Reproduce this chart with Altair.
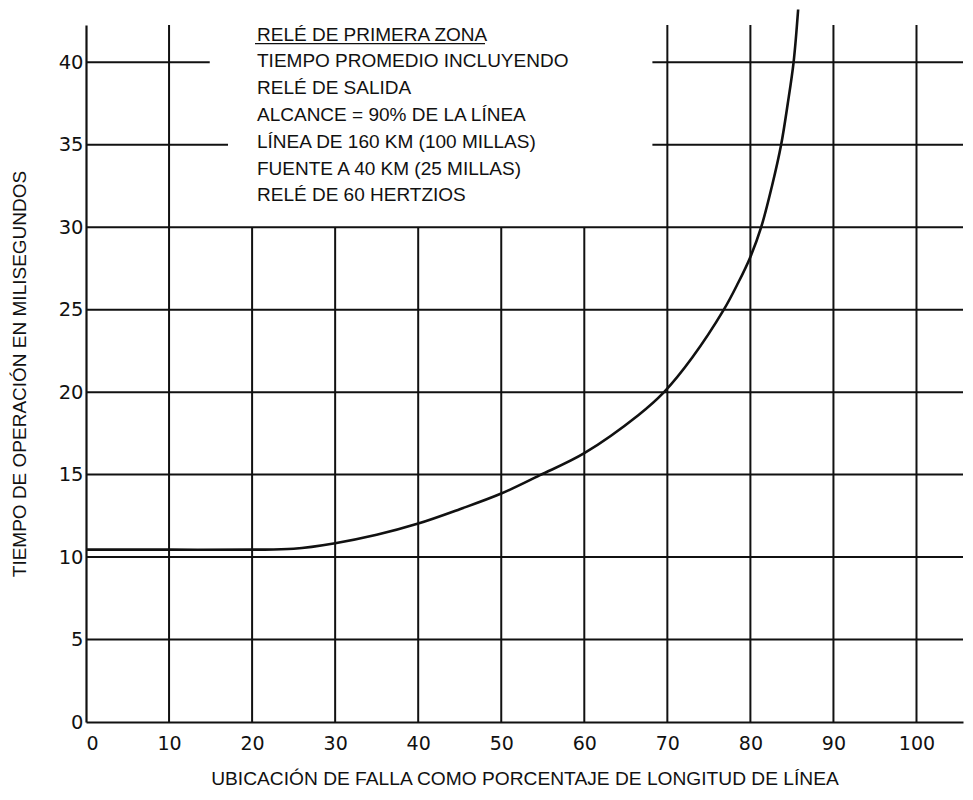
import altair as alt
import pandas as pd

# ---- data ----
fault_pct = [0, 10, 20, 25, 30, 35, 40, 45, 50, 54.6, 60, 66.5, 69.6, 73, 76.8, 78.5, 80, 81.3, 82.6, 83.7, 84.5, 85.2, 85.75]
op_time_ms = [10.45, 10.45, 10.45, 10.5, 10.84, 11.35, 12.03, 12.9, 13.85, 14.95, 16.3, 18.6, 20.0, 22.1, 25.0, 26.6, 28.2, 30.0, 32.5, 35.0, 37.5, 40.0, 43.2]

x_ticks = list(range(0, 101, 10))
y_ticks = list(range(0, 41, 5))

X_MAX = 105.6
Y_MAX = 42.26

# grid segments (hand-drawn grid, partly interrupted by the note block)
h_y = [5, 10, 15, 20, 25, 30, 35, 35, 40, 40]
h_x1 = [0, 0, 0, 0, 0, 0, 0, 68.2, 0, 68.2]
h_x2 = [X_MAX, X_MAX, X_MAX, X_MAX, X_MAX, X_MAX, 17.1, X_MAX, 14.9, X_MAX]
v_x = [10, 20, 30, 40, 50, 60, 70, 80, 90, 100]
v_top = [Y_MAX, 30, 30, 30, 30, 30, Y_MAX, Y_MAX, Y_MAX, Y_MAX]

note_lines = [
    "RELÉ DE PRIMERA ZONA",
    "TIEMPO PROMEDIO INCLUYENDO",
    "RELÉ DE SALIDA",
    "ALCANCE = 90% DE LA LÍNEA",
    "LÍNEA DE 160 KM (100 MILLAS)",
    "FUENTE A 40 KM (25 MILLAS)",
    "RELÉ DE 60 HERTZIOS",
]

x_title = "UBICACIÓN DE FALLA COMO PORCENTAJE DE LONGITUD DE LÍNEA"
y_title = "TIEMPO DE OPERACIÓN EN MILISEGUNDOS"

# ---- tables ----
curve_df = pd.DataFrame({"x": fault_pct, "y": op_time_ms})
h_df = pd.DataFrame({"y": h_y, "x": h_x1, "x2": h_x2})
v_df = pd.DataFrame({"x": v_x, "y": [0] * len(v_x), "y2": v_top})

INK = "#111111"
xs = alt.Scale(domain=[0, X_MAX], nice=False, zero=False)
ys = alt.Scale(domain=[0, Y_MAX], nice=False, zero=False)

x_axis = alt.Axis(values=x_ticks, grid=False, ticks=False, domain=True,
                  domainColor=INK, domainWidth=2.2, labelPadding=12,
                  labelFont="DejaVu Sans", labelFontSize=19, labelColor=INK,
                  title=x_title, titleFont="Liberation Sans", titleFontSize=19.2,
                  titleFontWeight="normal", titleColor=INK, titlePadding=16)
y_axis = alt.Axis(values=y_ticks, grid=False, ticks=False, domain=True,
                  domainColor=INK, domainWidth=2.2, labelPadding=3,
                  labelFont="DejaVu Sans", labelFontSize=19.5, labelColor=INK,
                  title=y_title, titleFont="Liberation Sans", titleFontSize=19,
                  titleFontWeight="normal", titleColor=INK, titlePadding=29)

hrules = alt.Chart(h_df).mark_rule(color=INK, strokeWidth=2).encode(
    x=alt.X("x:Q", scale=xs, axis=x_axis),
    x2="x2:Q",
    y=alt.Y("y:Q", scale=ys, axis=y_axis),
)

vrules = alt.Chart(v_df).mark_rule(color=INK, strokeWidth=2).encode(
    x=alt.X("x:Q", scale=xs, axis=x_axis),
    y=alt.Y("y:Q", scale=ys, axis=y_axis),
    y2="y2:Q",
)

curve = alt.Chart(curve_df).mark_line(
    color=INK, strokeWidth=2.6, interpolate="catmull-rom", clip=False
).encode(
    x=alt.X("x:Q", scale=xs, axis=x_axis),
    y=alt.Y("y:Q", scale=ys, axis=y_axis),
)

note = alt.Chart(pd.DataFrame({"a": [0]})).mark_text(
    align="left", baseline="alphabetic", font="Liberation Sans",
    fontSize=19, lineHeight=26.8, color=INK,
).encode(
    x=alt.value(171), y=alt.value(15.7), text=alt.value(note_lines)
)

underline = alt.Chart(pd.DataFrame({"a": [0]})).mark_rule(
    color=INK, strokeWidth=1.2
).encode(x=alt.value(169), x2=alt.value(399), y=alt.value(18.6))

chart = alt.layer(hrules, vrules, curve, note, underline).properties(
    width=877, height=697,
    autosize=alt.AutoSizeParams(type="none"),
    padding={"left": 78, "top": 17, "right": 2, "bottom": 70},
    background="white",
).configure_view(stroke=None)

chart.save("out.html", embed_options={"renderer": "svg", "actions": False})
